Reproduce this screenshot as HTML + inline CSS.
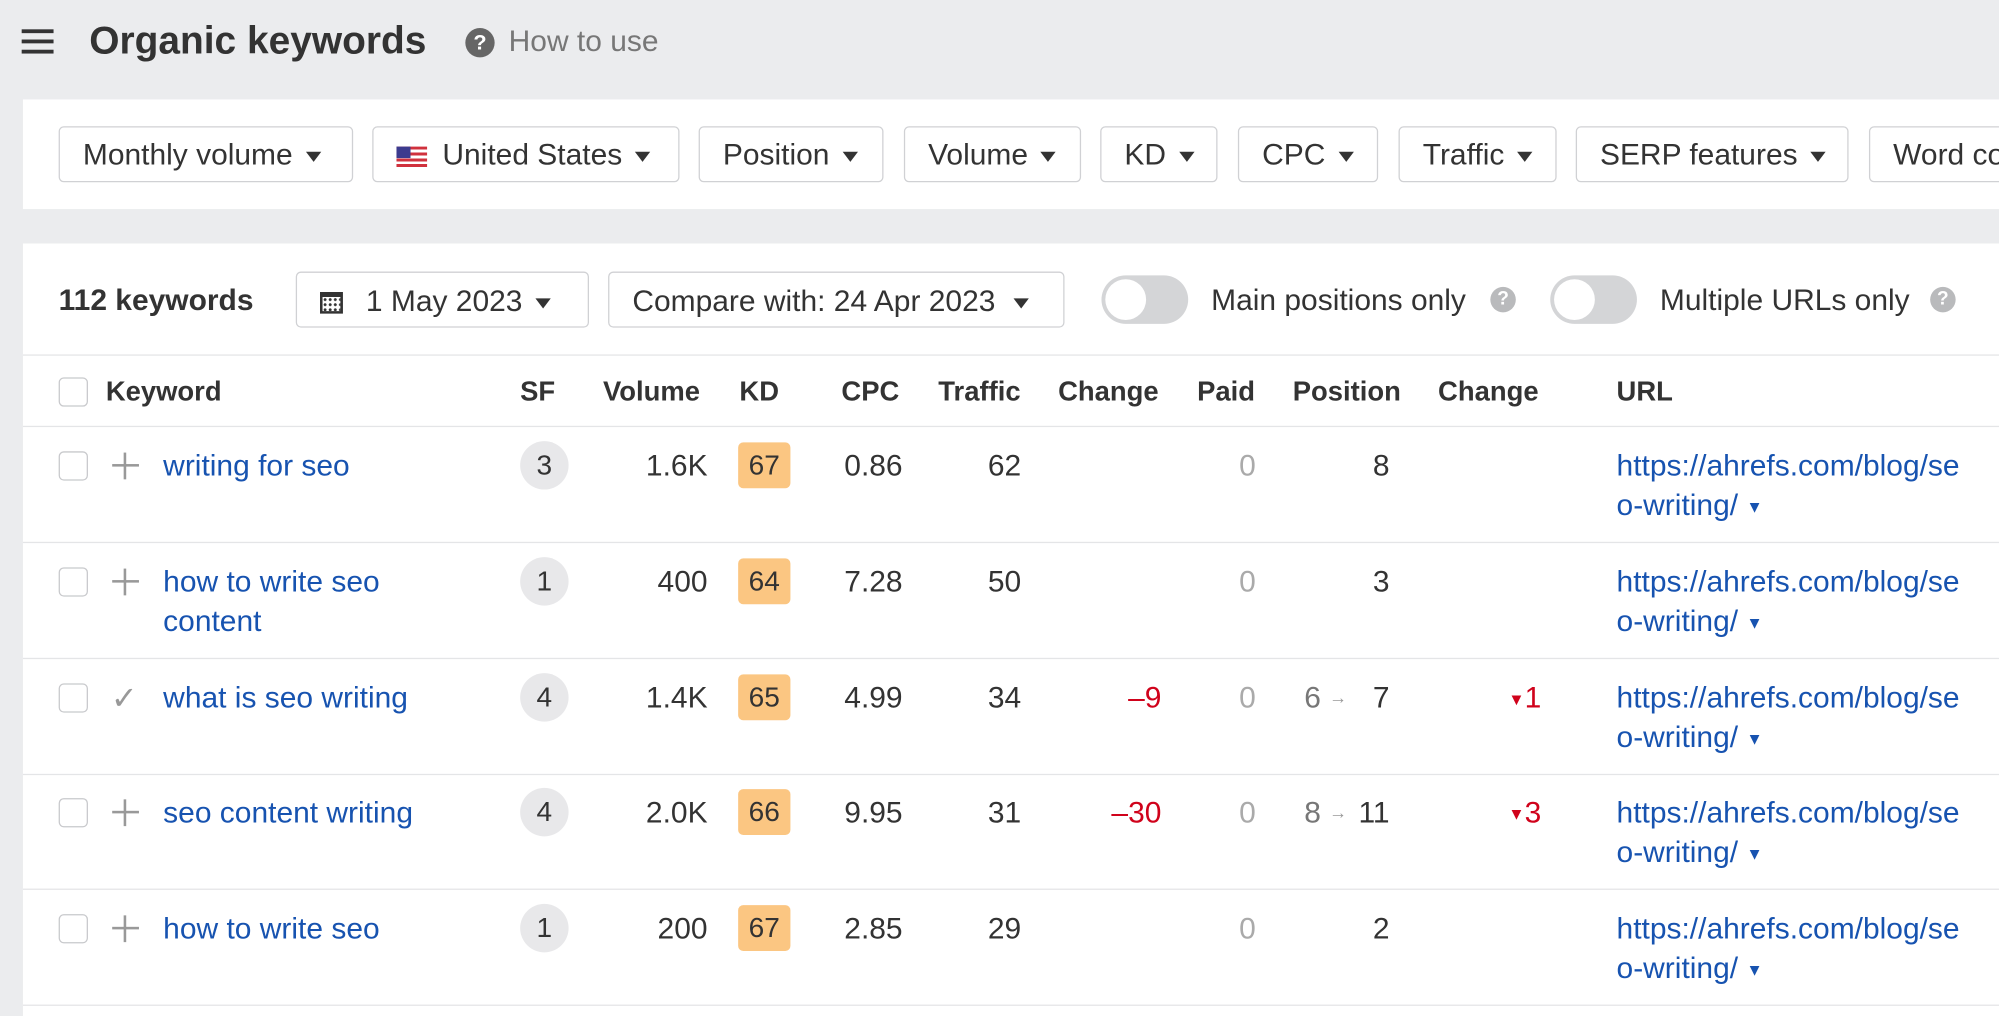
<!DOCTYPE html>
<html><head><meta charset="utf-8"><style>
body{margin:0;width:1999px;height:1015px;overflow:hidden;background:#ebecee;font-family:"Liberation Sans",Arial,sans-serif}
#w{position:absolute;left:0;top:0;width:1568px;height:797px;transform:scale(1.27487);transform-origin:0 0;overflow:hidden}
.a{position:absolute;white-space:nowrap}
.p{position:absolute;background:#fff;left:18px;right:0}
.btn{position:absolute;top:99px;height:44px;border:1px solid #d0d1d4;border-radius:4px;background:#fff;font-size:23.5px;color:#333;line-height:42px;padding-left:18px;box-sizing:border-box;white-space:nowrap;overflow:hidden}
.tri{display:inline-block;width:0;height:0;border-left:6px solid transparent;border-right:6px solid transparent;border-top:8px solid #333;vertical-align:middle;margin-left:10px}
.h{font-size:21.5px;font-weight:bold;color:#333;top:295px}
.cb{position:absolute;left:46px;width:21px;height:21px;border:1px solid #c8c9cc;border-radius:4px;background:#fff}
.t{font-size:23.5px;color:#333}
.r{text-align:right}
.lk{color:#1753b0;font-size:23.5px}
.sf{position:absolute;left:408px;width:38px;height:38px;border-radius:50%;background:#e8e8ea;font-size:22px;color:#333;text-align:center;line-height:38px}
.kd{position:absolute;left:579px;width:41px;height:36px;border-radius:4px;background:#fbc682;font-size:22px;color:#333;text-align:center;line-height:36px}
.ln{position:absolute;left:18px;right:0;height:1px;background:#e4e5e7}
.tg{position:absolute;top:216px;width:68px;height:38px;border-radius:19px;background:#d4d5d7}
.tg:after{content:"";position:absolute;left:3px;top:3px;width:32px;height:32px;border-radius:50%;background:#fff}
.q{position:absolute;width:20px;height:20px;border-radius:50%;background:#b9babc;color:#fff;font-size:15px;font-weight:bold;text-align:center;line-height:20px}
</style></head><body><div id="w">
<div class="a" style="left:17px;top:23px;width:25px;height:3px;background:#333;box-shadow:0 8px 0 #333,0 16px 0 #333"></div>
<div class="a" style="left:70px;top:15px;font-size:30.5px;font-weight:bold;color:#333">Organic keywords</div>
<div class="q" style="left:365px;top:22px;width:23px;height:23px;line-height:23px;background:#666;font-size:17px">?</div>
<div class="a" style="left:399px;top:19px;font-size:23.5px;color:#777">How to use</div>
<div class="p" style="top:78px;height:86px"></div>
<div class="btn" style="left:46px;width:231px">Monthly volume<span class="tri"></span></div>
<div class="btn" style="left:292px;width:241px"><span style="display:inline-block;width:24px;height:16px;vertical-align:middle;margin-right:12px;background:repeating-linear-gradient(#d0313d 0 2.3px,#fff 2.3px 4.6px);position:relative"><span style="position:absolute;left:0;top:0;width:11px;height:9px;background:#3c3b8e"></span></span>United States<span class="tri"></span></div>
<div class="btn" style="left:548px;width:145px">Position<span class="tri"></span></div>
<div class="btn" style="left:709px;width:139px">Volume<span class="tri"></span></div>
<div class="btn" style="left:863px;width:92px">KD<span class="tri"></span></div>
<div class="btn" style="left:971px;width:110px">CPC<span class="tri"></span></div>
<div class="btn" style="left:1097px;width:124px">Traffic<span class="tri"></span></div>
<div class="btn" style="left:1236px;width:214px">SERP features<span class="tri"></span></div>
<div class="btn" style="left:1466px;width:160px">Word count<span class="tri"></span></div>
<div class="p" style="top:191px;height:620px"></div>
<div class="a t" style="left:46px;top:222px;font-weight:bold">112 keywords</div>
<div class="btn" style="left:232px;top:213px;width:230px;height:44px;line-height:44px"><span style="display:inline-block;width:18px;height:17px;border:2px solid #333;border-top-width:4px;box-sizing:border-box;vertical-align:middle;margin-right:18px;background:radial-gradient(circle,#333 1px,transparent 1.3px) 0 0/4px 4px"></span>1 May 2023<span class="tri"></span></div>
<div class="btn" style="left:477px;top:213px;width:358px;height:44px;line-height:44px">Compare with: 24 Apr 2023<span class="tri" style="margin-left:14px"></span></div>
<div class="tg" style="left:864px"></div>
<div class="a t" style="left:950px;top:222px">Main positions only</div>
<div class="q" style="left:1169px;top:225px">?</div>
<div class="tg" style="left:1216px"></div>
<div class="a t" style="left:1302px;top:222px">Multiple URLs only</div>
<div class="q" style="left:1514px;top:225px">?</div>
<div class="ln" style="top:278px"></div>
<div class="cb" style="top:296px"></div>
<div class="a h" style="left:83px">Keyword</div>
<div class="a h" style="left:408px">SF</div>
<div class="a h" style="left:473px">Volume</div>
<div class="a h" style="left:580px">KD</div>
<div class="a h" style="left:660px">CPC</div>
<div class="a h" style="left:736px">Traffic</div>
<div class="a h" style="left:830px">Change</div>
<div class="a h" style="left:939px">Paid</div>
<div class="a h" style="left:1014px">Position</div>
<div class="a h" style="left:1128px">Change</div>
<div class="a h" style="left:1268px">URL</div>
<div class="ln" style="top:334px"></div>
<div id="rows"></div>
</div>
<script>
var d=[["writing for seo","",3,"1.6K",67,"0.86",62,"","","8","",365],
["how to write seo<br>content","",1,"400",64,"7.28",50,"","","3","",456],
["what is seo writing","c",4,"1.4K",65,"4.99",34,"–9","6","7","1",547],
["seo content writing","",4,"2.0K",66,"9.95",31,"–30","8","11","3",637],
["how to write seo","",1,"200",67,"2.85",29,"","","2","",728]];
var h="";
d.forEach(function(r){var y=r[11],t=y-13;
h+='<div class="cb" style="top:'+(y-11)+'px"></div>';
h+= r[1]?'<div class="a" style="left:87px;top:'+(y-14)+'px;font-size:25px;color:#999">✓</div>':'<div class="a" style="left:88px;top:'+(y-1)+'px;width:21px;height:2px;background:#999"></div><div class="a" style="left:97px;top:'+(y-10)+'px;width:2px;height:21px;background:#999"></div>';
h+='<div class="a lk" style="left:128px;top:'+(t-2)+'px;line-height:31px">'+r[0]+'</div>';
h+='<div class="sf" style="top:'+(y-19)+'px">'+r[2]+'</div>';
h+='<div class="a t r" style="right:1013px;top:'+t+'px">'+r[3]+'</div>';
h+='<div class="kd" style="top:'+(y-18)+'px">'+r[4]+'</div>';
h+='<div class="a t r" style="right:860px;top:'+t+'px">'+r[5]+'</div>';
h+='<div class="a t r" style="right:767px;top:'+t+'px">'+r[6]+'</div>';
h+='<div class="a t r" style="right:657px;top:'+t+'px;color:#d0021b">'+r[7]+'</div>';
h+='<div class="a t r" style="right:583px;top:'+t+'px;color:#aaa">0</div>';
if(r[8])h+='<div class="a t" style="left:1023px;top:'+t+'px;color:#777">'+r[8]+' <span style="font-size:14px;color:#999;vertical-align:3px">→</span></div>';
h+='<div class="a t r" style="right:478px;top:'+t+'px">'+r[9]+'</div>';
if(r[10])h+='<div class="a t r" style="right:359px;top:'+t+'px;color:#d0021b"><span style="font-size:13px;vertical-align:2px">▼</span>'+r[10]+'</div>';
h+='<div class="a lk" style="left:1268px;top:'+(t-2)+'px;line-height:31px">https://ahrefs.com/blog/se<br>o-writing/ <span style="font-size:13px;vertical-align:2px">▼</span></div>';
h+='<div class="ln" style="top:'+(y+60)+'px"></div>';});
document.getElementById("rows").innerHTML=h;
</script>
</body></html>
